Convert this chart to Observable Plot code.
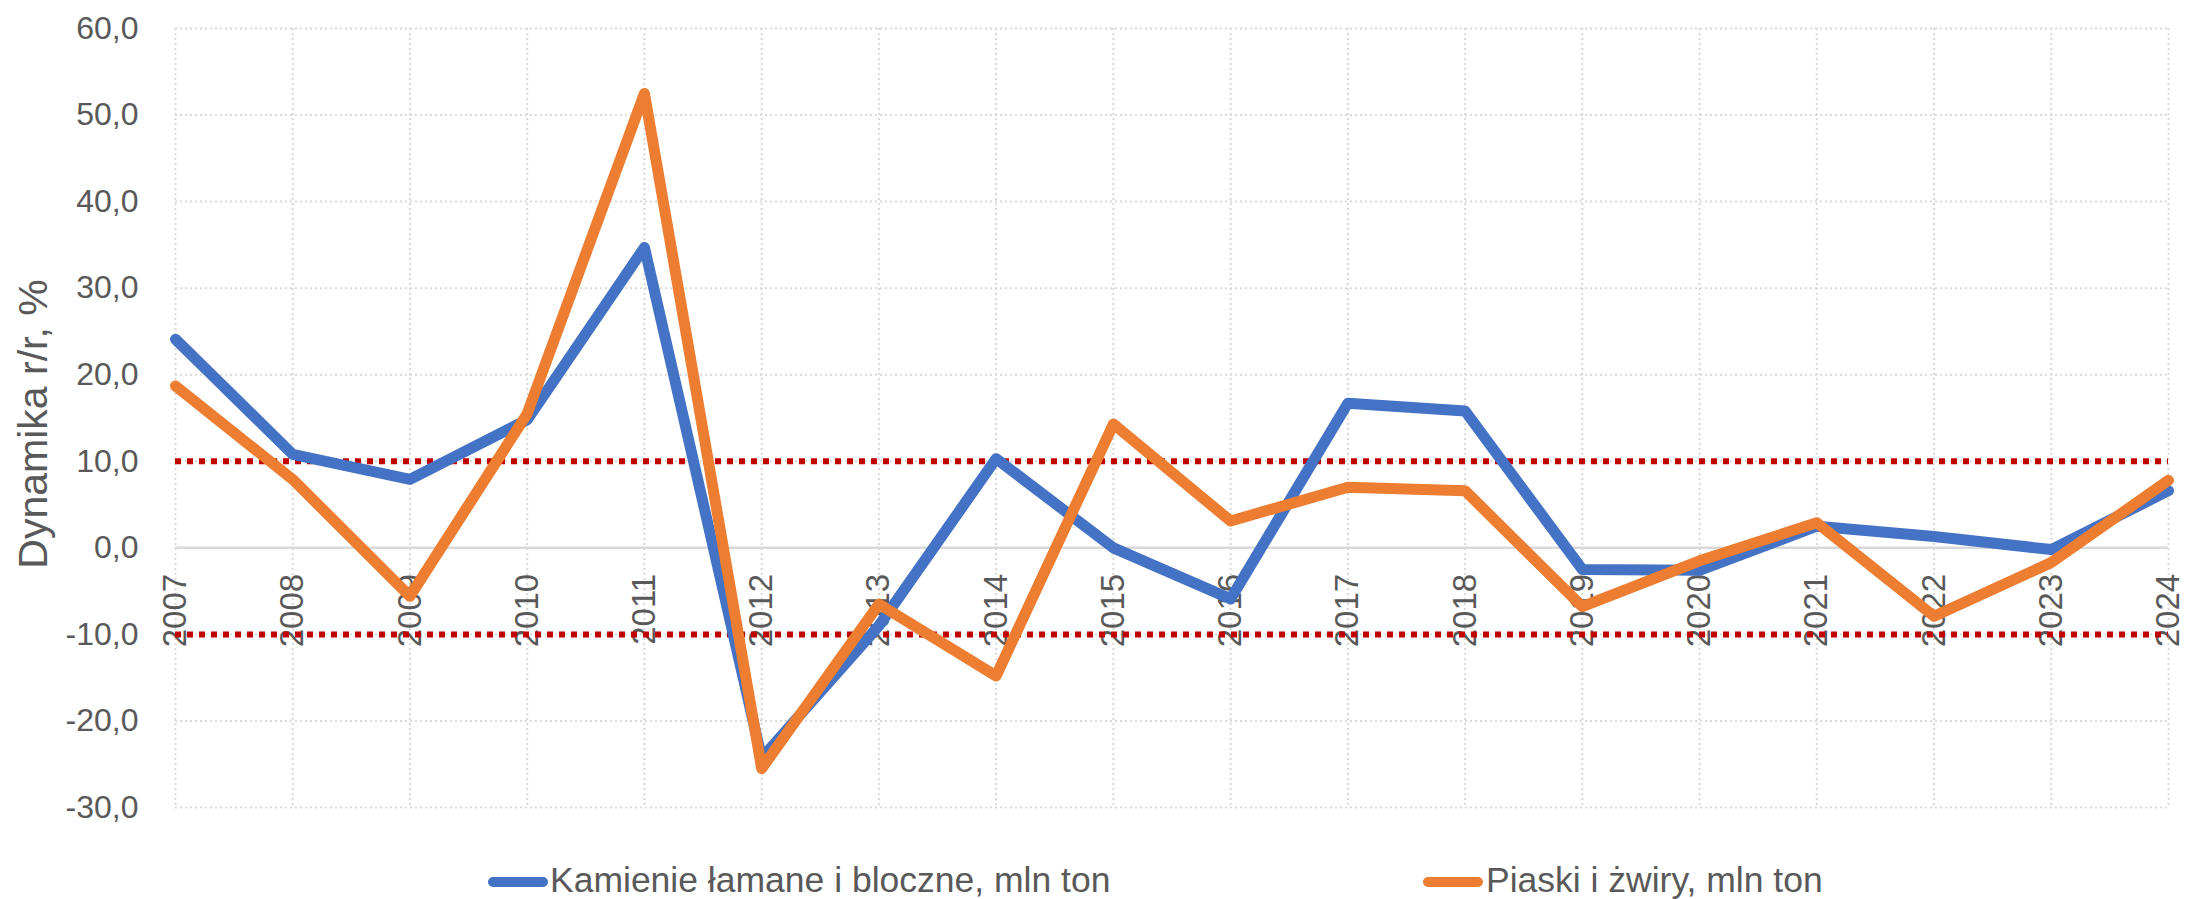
<!DOCTYPE html>
<html>
<head>
<meta charset="utf-8">
<script src="https://cdn.jsdelivr.net/npm/d3@7"></script>
<script src="https://cdn.jsdelivr.net/npm/@observablehq/plot@0.6"></script>
<style>
  html, body { margin: 0; padding: 0; background: #fff; }
  #wrap { position: relative; width: 2185px; height: 899px; overflow: hidden; }
  #legend { position: relative; width: 2185px; height: 59px; font-family: "Liberation Sans", Arial, sans-serif; color: #595959; }
  .sw { position: absolute; top: 37px; width: 60px; height: 10px; border-radius: 5px; }
  .lt { position: absolute; top: 23px; font-size: 35.5px; line-height: 35px; white-space: nowrap; }
</style>
</head>
<body>
<div id="wrap">
  <div id="chart"></div>
  <div id="legend"></div>
</div>
<script>
const years = [2007, 2008, 2009, 2010, 2011, 2012, 2013, 2014, 2015, 2016, 2017, 2018, 2019, 2020, 2021, 2022, 2023, 2024];
const kamienie = [24.1, 10.8, 7.9, 14.8, 34.7, -24.3, -9.0, 10.3, 0.0, -5.9, 16.7, 15.8, -2.5, -2.6, 2.5, 1.3, -0.2, 6.6];
const piaski = [18.7, 7.9, -5.6, 15.5, 52.5, -25.5, -6.5, -14.8, 14.3, 3.1, 7.0, 6.6, -6.8, -1.5, 2.9, -7.9, -1.7, 7.8];
const yTicks = [-30, -20, -10, 0, 10, 20, 30, 40, 50, 60];
const thresholds = [10, -10];
const seriesNames = ["Kamienie łamane i bloczne, mln ton", "Piaski i żwiry, mln ton"];
const seriesColors = ["#4472C4", "#ED7D31"];
const yTitle = "Dynamika r/r, %";

const dataK = years.map((y, i) => ({year: y, value: kamienie[i]}));
const dataP = years.map((y, i) => ({year: y, value: piaski[i]}));
const fmt = d => d.toFixed(1).replace(".", ",");

const chart = Plot.plot({
  width: 2185,
  height: 840,
  marginLeft: 175,
  marginRight: 17,
  marginTop: 28,
  marginBottom: 33,
  style: {fontFamily: "Liberation Sans, Arial, sans-serif", fontSize: "32px", color: "#595959", background: "#fff"},
  x: {domain: [2007, 2024], axis: null},
  y: {domain: [-30, 60], ticks: yTicks, tickFormat: fmt, tickSize: 0, tickPadding: 37, label: null},
  marks: [
    Plot.ruleX(years, {stroke: "#d9d9d9", strokeWidth: 2, strokeDasharray: "2,3"}),
    Plot.ruleY(yTicks.filter(d => d !== 0), {stroke: "#d9d9d9", strokeWidth: 2, strokeDasharray: "2,3"}),
    Plot.ruleY([0], {stroke: "#d9d9d9", strokeWidth: 2.5}),
    Plot.text(years, {x: d => d, y: () => 0, text: d => String(d), rotate: -90, textAnchor: "end", lineAnchor: "middle", dy: 26, fontSize: 33, fill: "#595959"}),
    Plot.ruleY(thresholds, {stroke: "#C00000", strokeWidth: 6, strokeDasharray: "6,6"}),
    Plot.line(dataK, {x: "year", y: "value", stroke: seriesColors[0], strokeWidth: 11, strokeLinejoin: "round", strokeLinecap: "round"}),
    Plot.line(dataP, {x: "year", y: "value", stroke: seriesColors[1], strokeWidth: 11, strokeLinejoin: "round", strokeLinecap: "round"}),
    Plot.text([yTitle], {frameAnchor: "left", dx: -142, dy: 6, rotate: -90, text: d => d, fontSize: 41, fill: "#595959", lineAnchor: "middle", textAnchor: "middle"})
  ]
});
document.getElementById("chart").appendChild(chart);

const legend = document.getElementById("legend");
const pos = [{sw: 488, tx: 550}, {sw: 1423, tx: 1486}];
seriesNames.forEach((name, i) => {
  const s = document.createElement("div");
  s.className = "sw";
  s.style.left = pos[i].sw + "px";
  s.style.background = seriesColors[i];
  legend.appendChild(s);
  const t = document.createElement("div");
  t.className = "lt";
  t.style.left = pos[i].tx + "px";
  t.textContent = name;
  legend.appendChild(t);
});
</script>
</body>
</html>
